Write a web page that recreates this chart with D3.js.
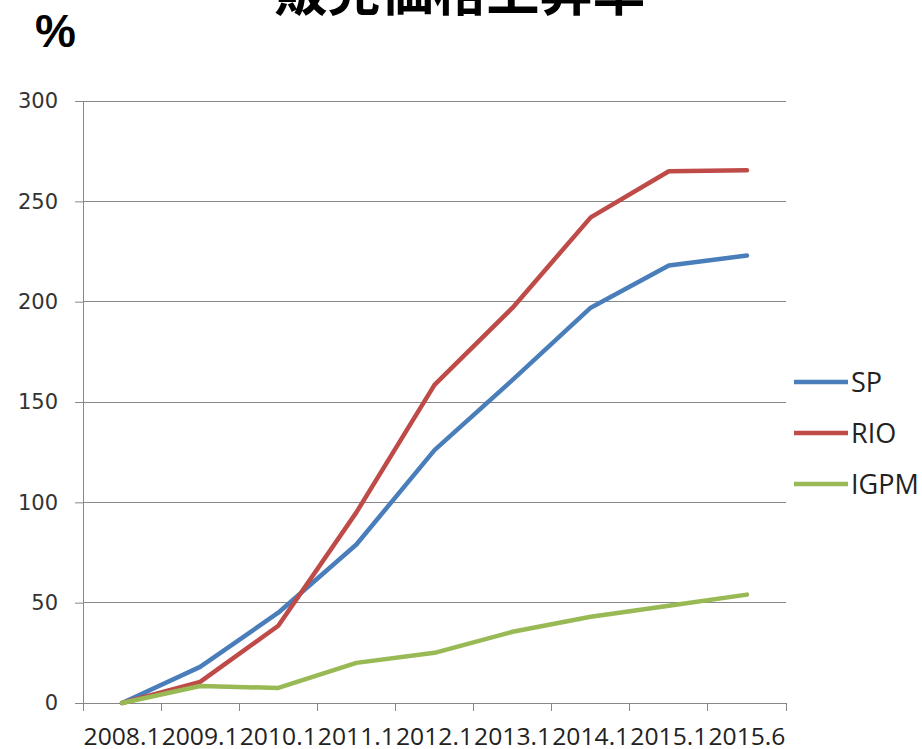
<!DOCTYPE html>
<html><head><meta charset="utf-8">
<script src="https://cdn.jsdelivr.net/npm/d3@7"></script>
<style>body{margin:0;background:#fff;} svg{display:block;}</style>
</head><body>
<script>
const categories = ["2008.1","2009.1","2010.1","2011.1","2012.1","2013.1","2014.1","2015.1","2015.6"];
const spValues   = [0, 18, 45, 79, 126, 161, 197, 218, 223];
const rioValues  = [0, 10.5, 38.5, 95, 158.5, 197, 242, 265, 265.5];
const igpmValues = [0, 8.5, 7.5, 20, 25, 35.5, 43, 48.5, 54];
const yTicks = [0, 50, 100, 150, 200, 250, 300];
const seriesNames = ["SP", "RIO", "IGPM"];
const title = "販売価格上昇率";
const unitLabel = "%";

const series = [
  {name: seriesNames[0], values: spValues, color: "#4A7EBB"},
  {name: seriesNames[1], values: rioValues, color: "#BE4B48"},
  {name: seriesNames[2], values: igpmValues, color: "#98B954"}
];

const W = 922, H = 749;
const svg = d3.select("body").append("svg").attr("width", W).attr("height", H);

const x = d3.scaleBand().domain(categories).range([83, 786]).padding(0);
const y = d3.scaleLinear().domain([0, 300]).range([703, 101]);
const grid = "#878787";

// gridlines
svg.append("g").selectAll("line").data(yTicks.filter(d => d > 0)).join("line")
  .attr("x1", 83).attr("x2", 786).attr("y1", d => y(d)).attr("y2", d => y(d))
  .attr("stroke", grid).attr("stroke-width", 1).attr("shape-rendering", "crispEdges");

// y axis
const yAxis = svg.append("g").attr("transform", "translate(83,0)")
  .call(d3.axisLeft(y).tickValues(yTicks).tickSize(8).tickPadding(17));
yAxis.select(".domain").attr("stroke", grid);
yAxis.selectAll(".tick line").attr("stroke", grid);
yAxis.selectAll("text").attr("font-family", "DejaVu Sans").attr("font-size", 21).attr("fill", "#333");

// x axis
const xAxis = svg.append("g").attr("transform", "translate(0,703)");
xAxis.append("line").attr("x1", 83).attr("x2", 786).attr("y1", 0).attr("y2", 0)
  .attr("stroke", grid).attr("shape-rendering", "crispEdges");
const bounds = categories.map(c => x(c)).concat([x(categories[categories.length-1]) + x.bandwidth()]);
xAxis.selectAll("line.tk").data(bounds).join("line").attr("class", "tk")
  .attr("x1", d => d).attr("x2", d => d).attr("y1", 0).attr("y2", 8)
  .attr("stroke", grid).attr("shape-rendering", "crispEdges");
xAxis.selectAll("text").data(categories).join("text")
  .attr("x", d => x(d) + x.bandwidth() / 2).attr("y", 42)
  .attr("text-anchor", "middle").attr("font-family", "Open Sans").attr("font-size", 24)
  .attr("textLength", 77).attr("lengthAdjust", "spacingAndGlyphs")
  .attr("fill", "#222").text(d => d);

// lines
const line = d3.line().x((d, i) => x(categories[i]) + x.bandwidth() / 2).y(d => y(d));
svg.append("g").selectAll("path").data(series).join("path")
  .attr("d", d => line(d.values)).attr("fill", "none")
  .attr("stroke", d => d.color).attr("stroke-width", 4.5)
  .attr("stroke-linejoin", "round").attr("stroke-linecap", "round");

// legend
const leg = svg.append("g").selectAll("g").data(series).join("g")
  .attr("transform", (d, i) => `translate(794,${382 + i * 51})`);
leg.append("line").attr("x1", 0).attr("x2", 54).attr("stroke", d => d.color).attr("stroke-width", 4.5);
leg.append("text").attr("x", 57).attr("y", 0).attr("dy", "0.36em")
  .attr("font-family", "Open Sans").attr("font-size", 27).attr("fill", "#222").text(d => d.name);

// title & unit
svg.append("text").attr("x", 460).attr("y", 11).attr("text-anchor", "middle")
  .attr("font-family", "Noto Sans CJK JP").attr("font-weight", "bold").attr("font-size", 53)
  .attr("fill", "#000").text(title);
svg.append("text").attr("x", 35).attr("y", 47)
  .attr("font-family", "Liberation Sans").attr("font-weight", "bold").attr("font-size", 46)
  .attr("fill", "#000").text(unitLabel);
</script>
</body></html>
